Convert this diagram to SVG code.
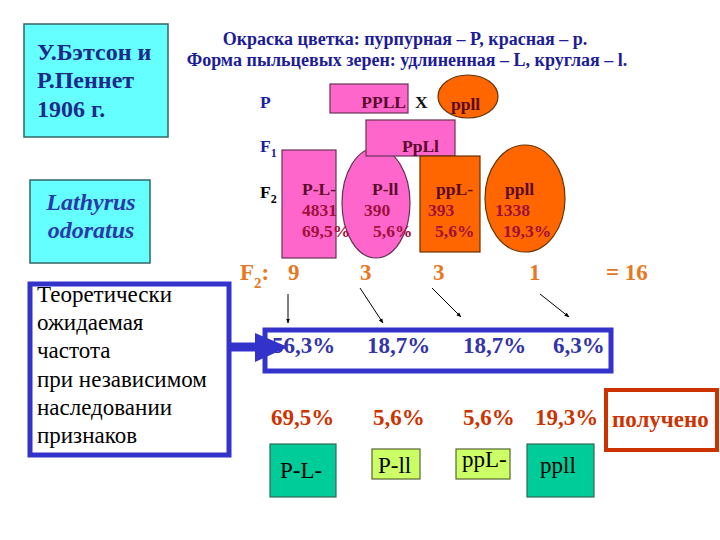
<svg xmlns="http://www.w3.org/2000/svg" width="720" height="540" viewBox="0 0 720 540" font-family="'Liberation Serif', 'DejaVu Serif', serif">
<style>
text{font-family:"Liberation Serif","DejaVu Serif",serif;}
.b{font-weight:bold;}
.title{font-size:18px;font-weight:bold;fill:#1c1c99;text-anchor:middle;}
.gen{font-size:17.5px;font-weight:bold;}
.lab{fill:#5a0a2a;}
.num{fill:#a0103c;}
.pink{fill:#ff66cc;stroke:#663355;stroke-width:1.2;}
.orange{fill:#ff6600;stroke:#663300;stroke-width:1.2;}
.cyan{fill:#66ffff;stroke:#336666;stroke-width:1.5;}
.ratio{font-size:23px;font-weight:bold;fill:#e87722;}
.exp{font-size:23px;font-weight:bold;fill:#3333aa;}
.obs{font-size:23px;font-weight:bold;fill:#cc3300;}
.green{fill:#00cc99;stroke:#336655;stroke-width:1.2;}
.lime{fill:#ccff66;stroke:#556633;stroke-width:1.2;}
.ph{font-size:23px;fill:#000;}
.thin{stroke:#000;stroke-width:1;fill:none;marker-end:url(#ah);}
</style>
<defs>
<marker id="ah" viewBox="0 0 10 10" refX="9" refY="5" markerWidth="5" markerHeight="5" orient="auto">
<path d="M0,1 L10,5 L0,9 z" fill="#000"/>
</marker>
</defs>

<g id="authors">
<rect class="cyan" x="24" y="24" width="144" height="113"/>
<text class="b" x="37" y="60" font-size="24" fill="#1c2a8c">У.Бэтсон и</text>
<text class="b" x="37" y="88" font-size="24" fill="#1c2a8c">Р.Пеннет</text>
<text class="b" x="37" y="117" font-size="24" fill="#1c2a8c">1906 г.</text>
</g>

<g id="species">
<rect class="cyan" x="30" y="180" width="120" height="83"/>
<text class="b" x="91" y="210" font-size="24" font-style="italic" fill="#2a3aaa" text-anchor="middle">Lathyrus</text>
<text class="b" x="91" y="238" font-size="24" font-style="italic" fill="#2a3aaa" text-anchor="middle">odoratus</text>
</g>

<g id="title">
<text class="title" x="405" y="45">Окраска цветка: пурпурная – P, красная – p.</text>
<text class="title" x="407" y="66">Форма пыльцевых зерен: удлиненная – L, круглая – l.</text>
</g>

<g id="gen-labels">
<text class="gen" x="260" y="108" fill="#1c1caa">P</text>
<text class="gen" x="260" y="152" fill="#1c1caa">F<tspan font-size="12" dy="5">1</tspan></text>
<text class="gen" x="260" y="198" fill="#000">F<tspan font-size="12" dy="5">2</tspan></text>
</g>

<g id="parent-PPLL">
<rect class="pink" x="330" y="84" width="78" height="29"/>
<text class="gen lab" x="406" y="108" text-anchor="end">PPLL</text>
</g>
<g id="cross">
<text class="gen" x="415" y="108" fill="#111">X</text>
</g>
<g id="parent-ppll">
<ellipse class="orange" cx="468" cy="96.5" rx="30" ry="21.5"/>
<text class="gen lab" x="451" y="110">ppll</text>
</g>

<g id="f2-P-L">
<rect class="pink" x="282" y="150" width="54" height="108"/>
</g>
<g id="f2-P-ll">
<ellipse class="pink" cx="376" cy="203" rx="34" ry="55"/>
</g>
<g id="f1-PpLl">
<rect class="pink" x="366" y="120" width="89" height="36"/>
<text class="gen lab" x="402" y="152">PpLl</text>
</g>
<g id="f2-ppL">
<rect class="orange" x="420" y="156" width="60" height="96"/>
</g>
<g id="f2-ppll">
<ellipse class="orange" cx="525" cy="198.5" rx="40" ry="53.5"/>
</g>

<g id="f2-texts" class="gen">
<text class="lab" x="302" y="195">P-L-</text>
<text class="num" x="302" y="216">4831</text>
<text class="num" x="302" y="237">69,5%</text>
<text class="lab" x="372" y="195">P-ll</text>
<text class="num" x="364" y="216">390</text>
<text class="num" x="373" y="237">5,6%</text>
<text class="lab" x="436" y="195">ppL-</text>
<text class="num" x="428" y="216">393</text>
<text class="num" x="435" y="237">5,6%</text>
<text class="lab" x="505" y="195">ppll</text>
<text class="num" x="495" y="216">1338</text>
<text class="num" x="503" y="237">19,3%</text>
</g>

<g id="ratio">
<text class="ratio" x="240" y="280">F<tspan font-size="15" dy="8">2</tspan><tspan dy="-8">:</tspan></text>
<text class="ratio" x="288" y="280">9</text>
<text class="ratio" x="360" y="280">3</text>
<text class="ratio" x="433" y="280">3</text>
<text class="ratio" x="529" y="280">1</text>
<text class="ratio" x="606" y="280">= 16</text>
</g>

<g id="theory">
<rect x="30" y="284" width="199" height="171" fill="#fff" stroke="#3333cc" stroke-width="5"/>
<text class="ph" x="37" y="302">Теоретически</text>
<text class="ph" x="37" y="330">ожидаемая</text>
<text class="ph" x="37" y="358">частота</text>
<text class="ph" x="37" y="387">при независимом</text>
<text class="ph" x="37" y="415">наследовании</text>
<text class="ph" x="37" y="443">признаков</text>
</g>

<g id="expected">
<rect x="265" y="330" width="346" height="41" fill="#fff" stroke="#3333cc" stroke-width="5"/>
<text class="exp" x="272" y="353">56,3%</text>
<text class="exp" x="367" y="353">18,7%</text>
<text class="exp" x="463" y="353">18,7%</text>
<text class="exp" x="553" y="353">6,3%</text>
</g>

<g id="observed">
<text class="obs" x="271" y="425">69,5%</text>
<text class="obs" x="373" y="425">5,6%</text>
<text class="obs" x="463" y="425">5,6%</text>
<text class="obs" x="535" y="425">19,3%</text>
</g>

<g id="obtained">
<rect x="606" y="390" width="111" height="60" fill="#fff" stroke="#cc3300" stroke-width="4"/>
<text class="obs" x="612" y="427">получено</text>
</g>

<g id="pheno-PL">
<rect class="green" x="270" y="444" width="66" height="53"/>
<text class="ph" x="280" y="478">P-L-</text>
</g>
<g id="pheno-Pll">
<rect class="lime" x="372" y="449" width="48" height="30"/>
<text class="ph" x="378" y="473">P-ll</text>
</g>
<g id="pheno-ppL">
<rect class="lime" x="456" y="449" width="54" height="30"/>
<text class="ph" x="462" y="467">ppL-</text>
</g>
<g id="pheno-ppll">
<rect class="green" x="527" y="444" width="67" height="53"/>
<text class="ph" x="540" y="473">ppll</text>
</g>

<g id="connectors">
<line class="thin" x1="288" y1="294" x2="288" y2="323"/>
<line class="thin" x1="360" y1="288" x2="383" y2="323"/>
<line class="thin" x1="432" y1="288" x2="461" y2="317"/>
<line class="thin" x1="540" y1="294" x2="569" y2="317"/>
<line x1="229" y1="347" x2="258" y2="347" stroke="#3333cc" stroke-width="9"/>
<polygon points="255,333 288,347 255,362" fill="#3333cc"/>
</g>
</svg>
